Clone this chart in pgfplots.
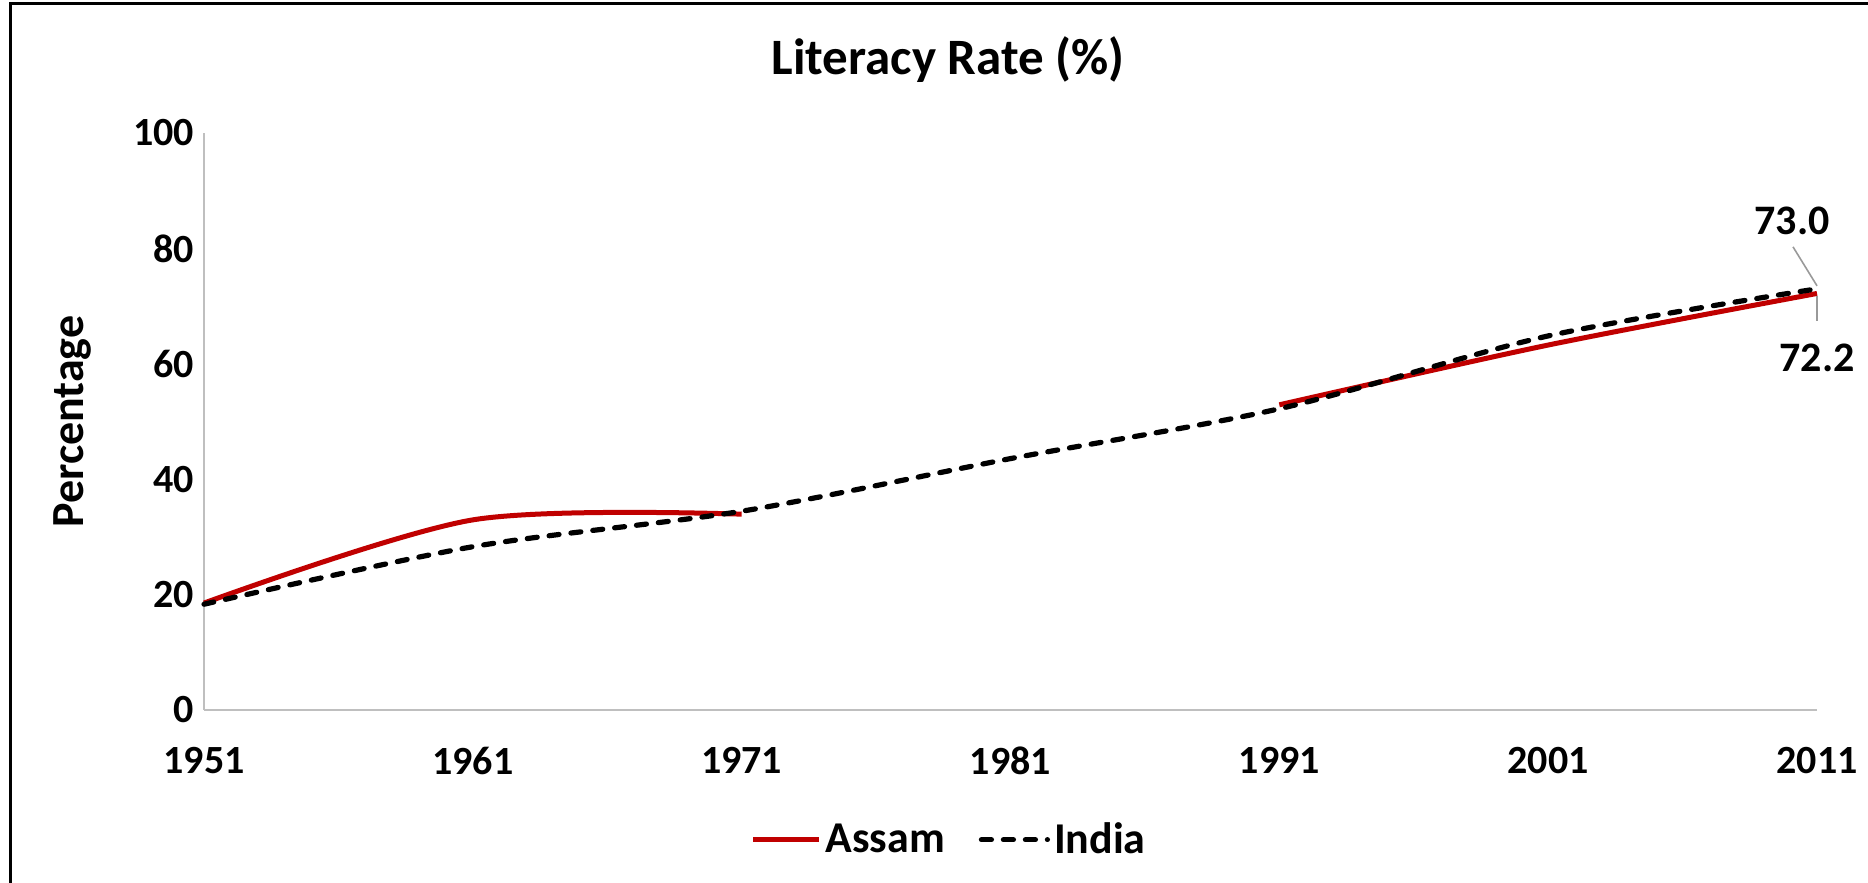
\documentclass[border=0pt]{standalone}
\usepackage{fontspec}
\setmainfont{Carlito}
\usepackage{pgfplots}
\pgfplotsset{compat=1.18}
\definecolor{assamred}{RGB}{192,0,0}
\definecolor{axisgray}{RGB}{191,191,191}
\begin{document}
\begin{tikzpicture}[x=1pt,y=1pt]
\path[use as bounding box] (0,0) rectangle (934,441.5);
\draw[line width=1.5pt] (5,0) -- (5,439.5) -- (934,439.5);
\node[font=\fontsize{25.5}{30}\selectfont\bfseries] at (474,411.5) {Literacy Rate (\%)};
\begin{axis}[
  at={(102pt,86.5pt)}, anchor=south west,
  scale only axis, width=806.5pt, height=288.5pt,
  xmin=1951, xmax=2011, ymin=0, ymax=100,
  axis lines*=left,
  axis line style={draw=axisgray, line width=1pt},
  major tick length=0pt,
  xtick={1951,1961,1971,1981,1991,2001,2011},
  ytick={0,20,40,60,80,100},
  /pgf/number format/1000 sep={},
  /pgf/number format/assume math mode=true,
  tick label style={font=\fontsize{20}{22}\selectfont\bfseries},
  xticklabel style={yshift=-15pt},
  yticklabel style={xshift=-1.5pt},
  ylabel={Percentage},
  ylabel style={font=\fontsize{23}{26}\selectfont\bfseries, at={(axis description cs:-0.0818,0.5)}, anchor=center},
  unbounded coords=jump,
  clip=false,
  legend style={at={(0.4625,-0.225)}, anchor=center, draw=none, legend columns=2,
    font=\fontsize{22}{25}\selectfont\bfseries,
    /tikz/every even column/.append style={column sep=15pt}},
  legend image code/.code={\draw[#1] (0pt,0pt) -- (33pt,0pt);},
]
\addplot[assamred, line width=2.5pt, smooth] coordinates {
  (1951,18.53) (1961,32.95) (1971,33.94) (1981,nan) (1991,52.89) (2001,63.25) (2011,72.19)
};
\addlegendentry{Assam}
\addplot[black, line width=2.6pt, smooth, line cap=round, dash pattern=on 5pt off 6pt] coordinates {
  (1951,18.33) (1961,28.30) (1971,34.45) (1981,43.57) (1991,52.21) (2001,64.83) (2011,72.99)
};
\addlegendentry{India}
\draw[axisgray!80!black, line width=0.8pt] (axis cs:2011,72.99) ++(0pt,1.5pt) -- ++(-12pt,19.5pt);
\node[font=\fontsize{21}{24}\selectfont\bfseries, xshift=-12.5pt, yshift=34pt] at (axis cs:2011,72.99) {73.0};
\draw[axisgray!80!black, line width=0.8pt] (axis cs:2011,72.19) ++(0pt,-1.5pt) -- ++(0pt,-12.5pt);
\node[font=\fontsize{21}{24}\selectfont\bfseries, yshift=-32pt] at (axis cs:2011,72.19) {72.2};
\end{axis}
\end{tikzpicture}
\end{document}
